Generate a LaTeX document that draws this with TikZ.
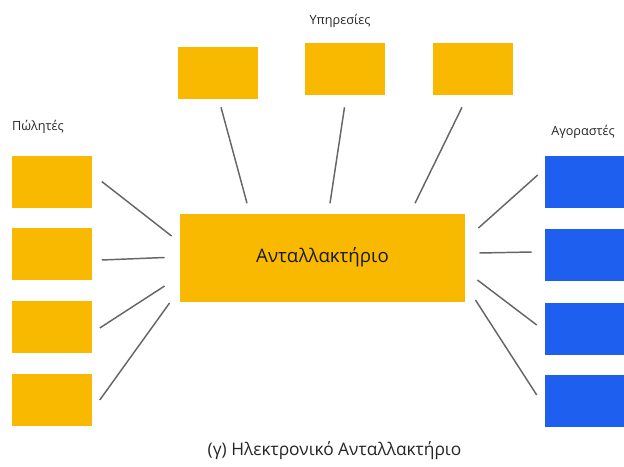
\documentclass[tikz,border=0pt]{standalone}
\usepackage{fontspec}
\setmainfont{Open Sans}
\usetikzlibrary{calc}
\definecolor{boxorange}{HTML}{F9B900}
\definecolor{boxblue}{HTML}{1F5FEF}
\definecolor{linkgray}{HTML}{666666}

\begin{document}
\begin{tikzpicture}[x=0.75pt, y=-0.75pt,
		box/.style={rectangle, fill=boxorange, inner sep=0pt, minimum width=60pt, minimum height=39pt},
		buyer/.style={box, fill=boxblue},
		link/.style={draw=linkgray, line width=1.1pt},
		lbl/.style={inner sep=0pt, text=black!85, font=\fontsize{9.5}{11}\selectfont}]
		%%%%% START %%%%%
		\useasboundingbox (0, 0) rectangle (624, 467);
		
		\node[box, minimum width=214pt, minimum height=66pt, font=\fontsize{14}{16}\selectfont, text=black!90] (ex) at (322.5, 257.5) {Ανταλλακτήριο};
		
		\node[box] (t1) at (218, 73) {};
		\node[box] (t2) at (344.5, 69) {};
		\node[box] (t3) at (473, 69) {};
		
		\node[box] (s1) at (51.5, 181.5) {};
		\node[box] (s2) at (51.5, 254) {};
		\node[box] (s3) at (51.5, 326.5) {};
		\node[box] (s4) at (51.5, 400) {};
		
		\node[buyer] (b1) at (585, 182) {};
		\node[buyer] (b2) at (585, 254.5) {};
		\node[buyer] (b3) at (585, 328.5) {};
		\node[buyer] (b4) at (585, 400.5) {};
		
		\node[lbl] (services) at (340, 21) {Υπηρεσίες};
		\node[lbl] (sellers) at (38, 127) {Πώλητές};
		\node[lbl, anchor=west] (buyers) at (551, 132) {Αγοραστές};
		\node[inner sep=0pt, text=black!85, font=\fontsize{13}{15}\selectfont] (caption) at (334.5, 451) {(γ) Ηλεκτρονικό Ανταλλακτήριο};
		
		\draw[link] ($(t1.south)+(3,8)$) -- ($(ex.north)+(-75.5,-10)$);
		\draw[link] ($(t2.south)+(0,12)$) -- ($(ex.north)+(7.5,-10)$);
		\draw[link] ($(t3.south)+(-11,12)$) -- ($(ex.north)+(92.5,-10)$);
		
		\draw[link] ($(s1.east)+(10,0)$) -- ($(ex.west)+(-8,-21.5)$);
		\draw[link] ($(s2.east)+(10,6)$) -- ($(ex.west)+(-15,0)$);
		\draw[link] ($(s3.east)+(8,1.5)$) -- ($(ex.west)+(-15,28.5)$);
		\draw[link] ($(s4.east)+(8,0)$) -- ($(ex.west)+(-10,45.5)$);
		
		\draw[link] ($(ex.east)+(13,-29.5)$) -- ($(b1.west)+(-7,-7)$);
		\draw[link] ($(ex.east)+(14,-4.5)$) -- ($(b2.west)+(-13,-2.5)$);
		\draw[link] ($(ex.east)+(12,22.5)$) -- ($(b3.west)+(-8,-3.5)$);
		\draw[link] ($(ex.east)+(10,42.5)$) -- ($(b4.west)+(-8,-5.5)$);
		%%%%% END %%%%%
\end{tikzpicture}
\end{document}
